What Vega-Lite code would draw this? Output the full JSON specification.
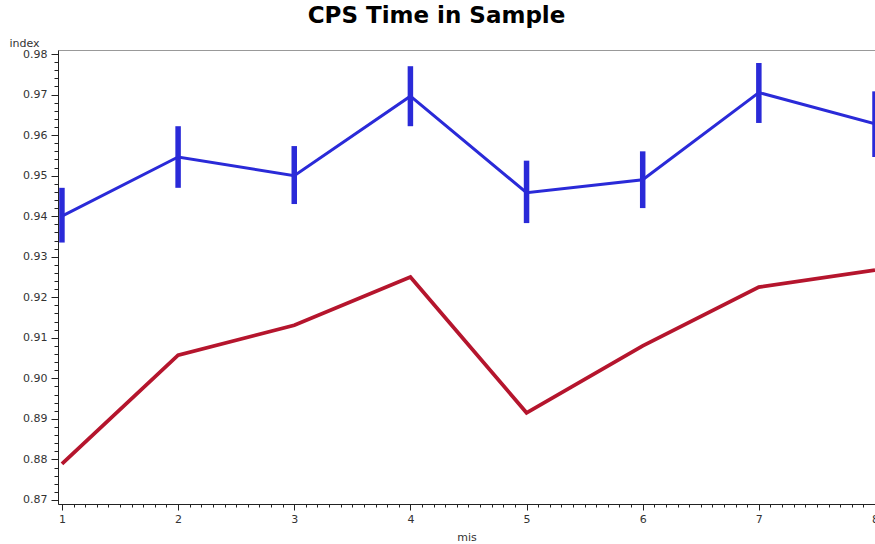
{
  "$schema": "https://vega.github.io/schema/vega-lite/v6.json",
  "width": 817,
  "height": 454,
  "autosize": "none",
  "padding": {"left": 58, "top": 50, "right": 0, "bottom": 40},
  "title": {"text": "CPS Time in Sample", "font": "DejaVu Sans", "fontSize": 23, "fontWeight": "bold", "color": "#000", "anchor": "middle", "dx": -30, "offset": 9},
  "config": {"view": {"stroke": "#999", "strokeWidth": 1}},
  "resolve": {"axis": {"y": "independent"}},
  "data": {"values": [
    {"mis": 1, "group": "s1", "index": 0.9400, "lo": 0.9335, "hi": 0.9470},
    {"mis": 2, "group": "s1", "index": 0.9546, "lo": 0.9470, "hi": 0.9622},
    {"mis": 3, "group": "s1", "index": 0.9500, "lo": 0.9430, "hi": 0.9573},
    {"mis": 4, "group": "s1", "index": 0.9696, "lo": 0.9622, "hi": 0.9770},
    {"mis": 5, "group": "s1", "index": 0.9458, "lo": 0.9383, "hi": 0.9537},
    {"mis": 6, "group": "s1", "index": 0.9490, "lo": 0.9420, "hi": 0.9560},
    {"mis": 7, "group": "s1", "index": 0.9705, "lo": 0.9630, "hi": 0.9778},
    {"mis": 8, "group": "s1", "index": 0.9628, "lo": 0.9546, "hi": 0.9708},
    {"mis": 1, "group": "s2", "index": 0.8789},
    {"mis": 2, "group": "s2", "index": 0.9057},
    {"mis": 3, "group": "s2", "index": 0.9131},
    {"mis": 4, "group": "s2", "index": 0.9250},
    {"mis": 5, "group": "s2", "index": 0.8915},
    {"mis": 6, "group": "s2", "index": 0.9080},
    {"mis": 7, "group": "s2", "index": 0.9225},
    {"mis": 8, "group": "s2", "index": 0.9267}
  ]},
  "encoding": {
    "x": {"field": "mis", "type": "quantitative",
      "scale": {"domain": [0.966, 8], "nice": false, "zero": false},
      "axis": {
        "title": "mis", "titleFont": "DejaVu Sans", "titleFontSize": 11, "titleFontWeight": "normal", "titleColor": "#333",
        "titleBaseline": "top", "titleY": 27,
        "values": [1,1.1,1.2,1.3,1.4,1.5,1.6,1.7,1.8,1.9,2,2.1,2.2,2.3,2.4,2.5,2.6,2.7,2.8,2.9,3,3.1,3.2,3.3,3.4,3.5,3.6,3.7,3.8,3.9,4,4.1,4.2,4.3,4.4,4.5,4.6,4.7,4.8,4.9,5,5.1,5.2,5.3,5.4,5.5,5.6,5.7,5.8,5.9,6,6.1,6.2,6.3,6.4,6.5,6.6,6.7,6.8,6.9,7,7.1,7.2,7.3,7.4,7.5,7.6,7.7,7.8,7.9,8],
        "labelExpr": "abs(datum.value - round(datum.value)) < 0.001 ? format(datum.value, '.0f') : ''",
        "labelOverlap": false, "labelBound": false, "labelFlush": false,
        "labelFont": "DejaVu Sans", "labelFontSize": 11, "labelColor": "#333", "labelPadding": 3,
        "tickSize": {"condition": {"test": "abs(datum.value - round(datum.value)) < 0.001", "value": 6}, "value": 3},
        "tickColor": "#222", "domainColor": "#222", "grid": false
      }
    }
  },
  "layer": [
    {
      "mark": {"type": "line"},
      "encoding": {
        "y": {"field": "index", "type": "quantitative",
          "scale": {"domain": [0.869, 0.981], "nice": false, "zero": false},
          "axis": {
            "title": "index", "titleFont": "DejaVu Sans", "titleFontSize": 11, "titleFontWeight": "normal", "titleColor": "#333",
            "titleAngle": 0, "titleAlign": "left", "titleBaseline": "alphabetic", "titleX": -49, "titleY": -4,
            "values": [0.870,0.872,0.874,0.876,0.878,0.880,0.882,0.884,0.886,0.888,0.890,0.892,0.894,0.896,0.898,0.900,0.902,0.904,0.906,0.908,0.910,0.912,0.914,0.916,0.918,0.920,0.922,0.924,0.926,0.928,0.930,0.932,0.934,0.936,0.938,0.940,0.942,0.944,0.946,0.948,0.950,0.952,0.954,0.956,0.958,0.960,0.962,0.964,0.966,0.968,0.970,0.972,0.974,0.976,0.978,0.980],
            "labelExpr": "abs(datum.value*100 - round(datum.value*100)) < 0.001 ? format(datum.value, '.2f') : ''",
            "labelOverlap": false, "labelBound": false, "labelFlush": false,
            "labelFont": "DejaVu Sans", "labelFontSize": 11, "labelColor": "#333", "labelPadding": 4,
            "tickSize": {"condition": {"test": "abs(datum.value*100 - round(datum.value*100)) < 0.001", "value": 7}, "value": 4},
            "tickColor": "#222", "domainColor": "#222", "grid": false
          }
        },
        "color": {"field": "group", "type": "nominal", "scale": {"domain": ["s1", "s2"], "range": ["#2a2ad8", "#b5152d"]}, "legend": null},
        "strokeWidth": {"field": "group", "type": "nominal", "scale": {"domain": ["s1", "s2"], "range": [3, 3.8]}, "legend": null}
      }
    },
    {
      "transform": [{"filter": "isValid(datum.lo)"}],
      "mark": {"type": "rule", "strokeWidth": 5.5, "color": "#2a2ad8"},
      "encoding": {
        "y": {"field": "lo", "type": "quantitative", "axis": null},
        "y2": {"field": "hi"}
      }
    }
  ]
}
